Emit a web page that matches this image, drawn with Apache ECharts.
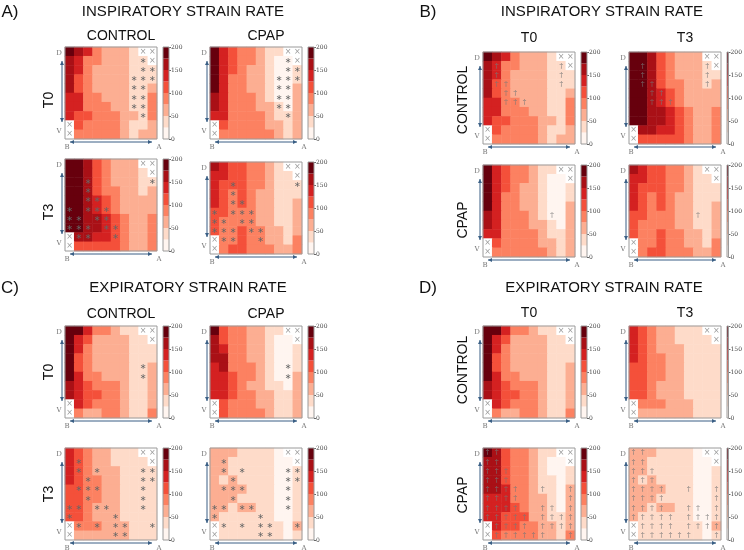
<!DOCTYPE html>
<html>
<head>
<meta charset="utf-8">
<script src="https://cdn.jsdelivr.net/npm/echarts/dist/echarts.min.js"></script>
<style>
  html, body { margin: 0; background: #fff; }
  #main { width: 744px; height: 550px; }
</style>
</head>
<body>
<div id="main"></div>
<script>
// colour scale: 8 bands of 25 between 0 and 200
const scaleBreaks = [0, 25, 50, 75, 100, 125, 150, 175, 200];
const scaleColors = ['#fff5f0', '#fedbc9', '#fcae92', '#fc8161', '#f4503a', '#d42121', '#a91016', '#67000d'];

const cols = ['0', '1', '2', '3', '4', '5', '6', '7', '8', '9'];   // B -> A
const rows = ['0', '1', '2', '3', '4', '5', '6', '7', '8', '9'];   // D -> V

// each string = one row (D at top); each char = band of the colour scale, '-' = excluded segment
const inspControlT0 = ['76532221--', '653322211-', '6532222111', '6432222111', '6432222112',
                       '5533222113', '5533322113', '5443332213', '-433332112', '-333332122'];
const inspCpapT0    = ['75433211--', '754332100-', '7543221001', '7533221001', '7533221002',
                       '6533321002', '6533322102', '5533332112', '-433332212', '-333333212'];
const inspControlT3 = ['77643222--', '776432221-', '7764322211', '7764332212', '7765432222',
                       '7765432222', '7766543223', '7766543223', '-665543223', '-444443223'];
const inspCpapT3    = ['65443321--', '554433211-', '5444332111', '5434322111', '5434322112',
                       '4433322112', '4333322112', '4334332212', '-334332213', '-344333223'];
const expControlT0  = ['77533211--', '754222211-', '7532222111', '7432222111', '7432222112',
                       '7533222112', '6543332112', '6544332112', '-543332112', '-322332113'];
const expCpapT0     = ['74332211--', '643322100-', '6533221001', '6633221001', '5633321001',
                       '5543321002', '5543221102', '5543322112', '-433322112', '-433332112'];
const expCpapT0D    = ['76433211--', '664332100-', '6643321001', '6643321101', '6653321102',
                       '5553322102', '5554322102', '5544422112', '-544332212', '-433332213'];
const expControlT3  = ['54322111--', '543221111-', '5432221111', '5433221111', '4433221111',
                       '4433221111', '4432221111', '4432221111', '-333222111', '-222222111'];
const expCpapT3     = ['22211110--', '221111100-', '2211111001', '2121111001', '2222111001',
                       '2221111001', '2212211001', '2111111001', '-111111102', '-111111101'];

// marks: x = excluded, * = significant, + = dagger, . = none
const markInspStarT0 = ['........xx', '........*x', '........**', '.......***', '.......**.',
                        '.......**.', '.......**.', '........*.', 'x.........', 'x.........'];
const markInspStarT3 = ['........xx', '.........x', '..*......*', '..*.......', '..**......',
                        '*.***.....', '**.**.....', '***.**....', 'x**..*....', 'x.........'];
const markInspDagCtl = ['........xx', '.+......+x', '.+......+.', '.++.....+.', '..++......',
                        '..+++.....', '..........', '..........', 'x.........', 'x.........'];
const markInspDagCpap = ['........xx', '.........x', '..........', '..........', '..........',
                         '.......+..', '..........', '..........', 'x.........', 'x.........'];
const markExpStarT0  = ['........xx', '.........x', '..........', '..........', '........*.',
                        '........*.', '..........', '..........', 'x.........', 'x.........'];
const markExpStarT3  = ['........xx', '.*.......x', '.*.*....**', '..*.....**', '.***....*.',
                        '..*.....*.', '**.**...*.', '*....*....', 'x*.*.**..*', 'x....**...'];
const markExpDagCpap = ['++......xx', '++.......x', '+++.......', '+++.......', '++++..+..+',
                        '++++.....+', '++++..++.+', '+++++.++++', 'x++++.++++', 'x++++++..+'];
const markNone       = ['........xx', '.........x', '..........', '..........', '..........',
                        '..........', '..........', '..........', 'x.........', 'x.........'];

// layout of the 16 maps
const mapSize = 92, cbarOffset = 98, cbarWidth = 6;
const maps = [
  { left: 65,  top: 47,  levels: inspControlT0, marks: markInspStarT0 },
  { left: 210, top: 47,  levels: inspCpapT0,    marks: markInspStarT0 },
  { left: 65,  top: 159, levels: inspControlT3, marks: markInspStarT3 },
  { left: 210, top: 162, levels: inspCpapT3,    marks: markInspStarT3 },
  { left: 483, top: 52,  levels: inspControlT0, marks: markInspDagCtl },
  { left: 629, top: 52,  levels: inspControlT3, marks: markInspDagCtl },
  { left: 483, top: 165, levels: inspCpapT0,    marks: markInspDagCpap },
  { left: 629, top: 165, levels: inspCpapT3,    marks: markInspDagCpap },
  { left: 65,  top: 326, levels: expControlT0,  marks: markExpStarT0 },
  { left: 210, top: 326, levels: expCpapT0,     marks: markExpStarT0 },
  { left: 65,  top: 448, levels: expControlT3,  marks: markExpStarT3 },
  { left: 210, top: 448, levels: expCpapT3,     marks: markExpStarT3 },
  { left: 483, top: 326, levels: expControlT0,  marks: markNone },
  { left: 629, top: 326, levels: expControlT3,  marks: markNone },
  { left: 483, top: 448, levels: expCpapT0D,    marks: markExpDagCpap },
  { left: 629, top: 448, levels: expCpapT3,     marks: markExpDagCpap }
];

// headings: [text, x, y, size, rotated]
const texts = [
  ['A)', 10, 12, 17, false], ['INSPIRATORY STRAIN RATE', 183, 12, 15, false],
  ['CONTROL', 121, 36, 14, false], ['CPAP', 266, 36, 14, false],
  ['T0', 49, 100, 14, true], ['T3', 49, 212, 14, true],
  ['B)', 428, 12, 17, false], ['INSPIRATORY STRAIN RATE', 602, 12, 15, false],
  ['T0', 529, 38, 14, false], ['T3', 685, 38, 14, false],
  ['CONTROL', 463, 100, 14, true], ['CPAP', 463, 220, 14, true],
  ['C)', 10, 288, 17, false], ['EXPIRATORY STRAIN RATE', 188, 288, 15, false],
  ['CONTROL', 121, 314, 14, false], ['CPAP', 266, 314, 14, false],
  ['T0', 49, 372, 14, true], ['T3', 49, 494, 14, true],
  ['D)', 428, 288, 17, false], ['EXPIRATORY STRAIN RATE', 604, 288, 15, false],
  ['T0', 529, 313, 14, false], ['T3', 685, 313, 14, false],
  ['CONTROL', 463, 370, 14, true], ['CPAP', 463, 495, 14, true]
];

const arrowColor = '#3a5f85';
const sideColor = '#777';

function arrow(x1, y1, x2, y2) {
  const len = Math.hypot(x2 - x1, y2 - y1);
  const ux = (x2 - x1) / len, uy = (y2 - y1) / len;
  const head = (tx, ty, dx, dy) => {
    const bx = tx - dx * 4, by = ty - dy * 4;
    return { type: 'polygon', shape: { points: [[tx, ty], [bx - dy * 2, by + dx * 2], [bx + dy * 2, by - dx * 2]] },
             style: { fill: arrowColor } };
  };
  return [
    { type: 'line', shape: { x1, y1, x2, y2 }, style: { stroke: arrowColor, lineWidth: 1 } },
    head(x2, y2, ux, uy),
    head(x1, y1, -ux, -uy)
  ];
}

const markLabel = p => {
  const m = p.data[3];
  if (m === 'x') return '{x|×}';
  if (m === '*') return '{s|∗}';
  if (m === '+') return '{d|†}';
  return '';
};

const grid = [], xAxis = [], yAxis = [], series = [], graphic = [];
const heatIdx = [];

maps.forEach((m, i) => {
  const g = grid.length;
  grid.push({ left: m.left, top: m.top, width: mapSize, height: mapSize, show: true,
              borderColor: '#9a9a9a', borderWidth: 1, backgroundColor: 'transparent', z: 3 });
  xAxis.push({ type: 'category', gridIndex: g, data: cols, show: false });
  yAxis.push({ type: 'category', gridIndex: g, data: rows, inverse: true, show: false });
  const data = [];
  m.levels.forEach((row, r) => {
    for (let c = 0; c < cols.length; c++) {
      const ch = row[c];
      const v = ch === '-' ? -1 : (scaleBreaks[+ch] + scaleBreaks[+ch + 1]) / 2;
      data.push([c, r, v, m.marks[r][c]]);
    }
  });
  heatIdx.push(series.length);
  series.push({
    type: 'heatmap', xAxisIndex: g, yAxisIndex: g, data: data,
    itemStyle: { borderWidth: 0 },
    emphasis: { disabled: true },
    label: {
      show: true, formatter: markLabel,
      rich: {
        x: { color: '#9a9a9a', fontSize: 8, fontFamily: 'DejaVu Sans' },
        s: { color: '#666', fontSize: 8, fontFamily: 'DejaVu Sans' },
        d: { color: '#777', fontSize: 7, fontFamily: 'DejaVu Serif' }
      }
    }
  });

  // colour bar
  const cg = grid.length;
  grid.push({ left: m.left + cbarOffset, top: m.top, width: cbarWidth, height: mapSize, show: true,
              borderColor: '#9a9a9a', borderWidth: 1, backgroundColor: 'transparent', z: 3 });
  xAxis.push({ type: 'category', gridIndex: cg, data: ['cb'], show: false });
  yAxis.push({
    type: 'value', gridIndex: cg, position: 'right', min: 0, max: 200, interval: 50,
    axisLine: { show: false }, splitLine: { show: false },
    axisTick: { show: true, length: 2, lineStyle: { color: '#666' } },
    axisLabel: { fontSize: 6, color: '#444', margin: 2, fontFamily: 'DejaVu Serif' }
  });
  scaleColors.forEach((col, k) => series.push({
    type: 'bar', xAxisIndex: cg, yAxisIndex: cg, stack: 'cb' + i, barWidth: '100%',
    data: [scaleBreaks[k + 1] - scaleBreaks[k]], itemStyle: { color: col }, silent: true
  }));

  // D/V and B/A sides with arrows
  const L = m.left, T = m.top, R = m.left + mapSize, Bm = m.top + mapSize;
  const side = (t, x, y) => ({ type: 'text', x, y,
    style: { text: t, font: '7px "DejaVu Serif"', fill: sideColor, align: 'center', verticalAlign: 'middle' } });
  graphic.push(side('D', L - 6, T + 6), side('V', L - 6, Bm - 8), side('B', L + 2, Bm + 8), side('A', R + 2, Bm + 8));
  graphic.push(...arrow(L - 3, T + 14, L - 3, Bm - 17));
  graphic.push(...arrow(L + 5, Bm + 3, R - 5, Bm + 3));
});

texts.forEach(([t, x, y, size, rot]) => graphic.push({
  type: 'text', x, y, rotation: rot ? Math.PI / 2 : 0,
  style: { text: t, font: size + 'px "Liberation Sans"', fill: '#111', align: 'center', verticalAlign: 'middle' }
}));

const chart = echarts.init(document.getElementById('main'));
chart.setOption({
  animation: false,
  backgroundColor: '#fff',
  grid, xAxis, yAxis, series,
  visualMap: {
    type: 'piecewise', show: false, seriesIndex: heatIdx, dimension: 2,
    pieces: [{ lt: 0, color: '#ffffff' }].concat(
      scaleColors.map((c, k) => ({ gte: scaleBreaks[k], lt: scaleBreaks[k + 1], color: c })))
  },
  graphic: { elements: graphic }
});
</script>
</body>
</html>
